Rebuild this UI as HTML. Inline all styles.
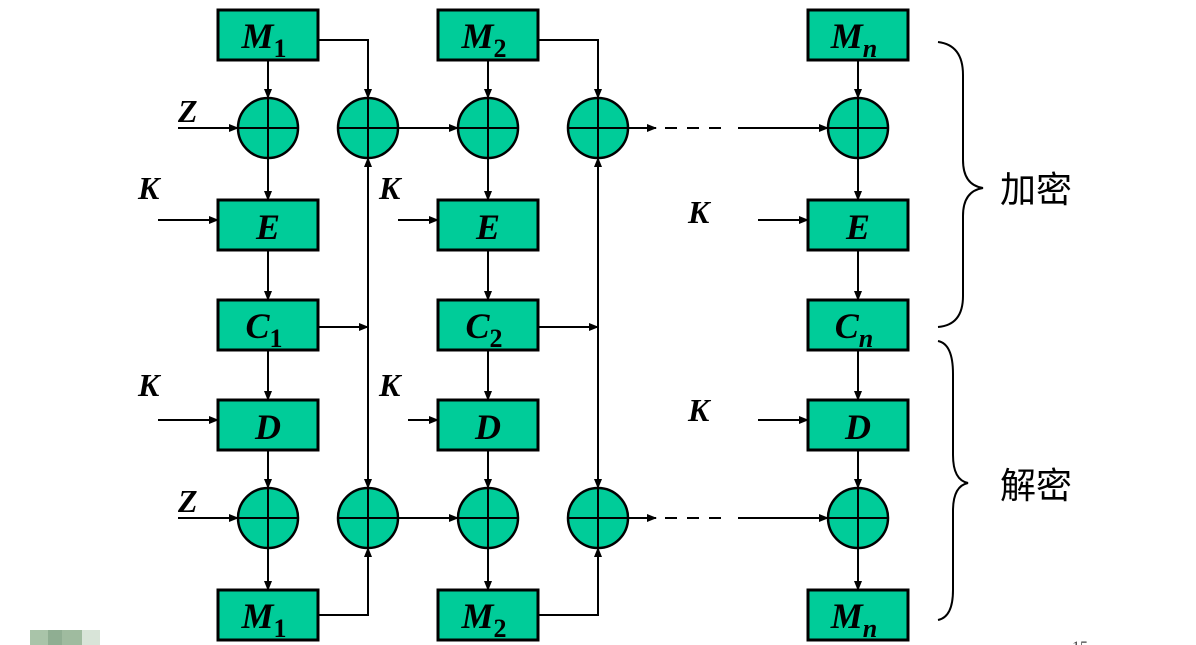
<!DOCTYPE html>
<html><head><meta charset="utf-8"><style>
html,body{margin:0;padding:0;background:#fff;width:1196px;height:645px;overflow:hidden}
svg{display:block}
.t{font-family:"Liberation Serif",serif;font-weight:bold;font-style:italic;fill:#000}
.c{font-family:"Liberation Sans","Noto Sans CJK SC",sans-serif;font-size:36px;fill:#000}
</style></head><body>
<svg width="1196" height="645" viewBox="0 0 1196 645" xmlns="http://www.w3.org/2000/svg">
<defs><marker id="a" markerWidth="10" markerHeight="8" refX="9" refY="4" orient="auto" markerUnits="userSpaceOnUse"><path d="M0,0 L10,4 L0,8 Z" fill="#000"/></marker></defs>
<g stroke="#000" stroke-width="2" fill="none">
<line x1="268" y1="60" x2="268" y2="98" marker-end="url(#a)"/>
<line x1="268" y1="158" x2="268" y2="200" marker-end="url(#a)"/>
<line x1="268" y1="250" x2="268" y2="300" marker-end="url(#a)"/>
<line x1="268" y1="350" x2="268" y2="400" marker-end="url(#a)"/>
<line x1="268" y1="450" x2="268" y2="488" marker-end="url(#a)"/>
<line x1="268" y1="548" x2="268" y2="590" marker-end="url(#a)"/>
<line x1="488" y1="60" x2="488" y2="98" marker-end="url(#a)"/>
<line x1="488" y1="158" x2="488" y2="200" marker-end="url(#a)"/>
<line x1="488" y1="250" x2="488" y2="300" marker-end="url(#a)"/>
<line x1="488" y1="350" x2="488" y2="400" marker-end="url(#a)"/>
<line x1="488" y1="450" x2="488" y2="488" marker-end="url(#a)"/>
<line x1="488" y1="548" x2="488" y2="590" marker-end="url(#a)"/>
<line x1="858" y1="60" x2="858" y2="98" marker-end="url(#a)"/>
<line x1="858" y1="158" x2="858" y2="200" marker-end="url(#a)"/>
<line x1="858" y1="250" x2="858" y2="300" marker-end="url(#a)"/>
<line x1="858" y1="350" x2="858" y2="400" marker-end="url(#a)"/>
<line x1="858" y1="450" x2="858" y2="488" marker-end="url(#a)"/>
<line x1="858" y1="548" x2="858" y2="590" marker-end="url(#a)"/>
<polyline points="318,40 368,40 368,98" marker-end="url(#a)"/>
<polyline points="538,40 598,40 598,98" marker-end="url(#a)"/>
<line x1="368" y1="300" x2="368" y2="158" marker-end="url(#a)"/>
<line x1="368" y1="300" x2="368" y2="488" marker-end="url(#a)"/>
<line x1="598" y1="300" x2="598" y2="158" marker-end="url(#a)"/>
<line x1="598" y1="300" x2="598" y2="488" marker-end="url(#a)"/>
<line x1="318" y1="327" x2="368" y2="327" marker-end="url(#a)"/>
<line x1="538" y1="327" x2="598" y2="327" marker-end="url(#a)"/>
<polyline points="318,615 368,615 368,548" marker-end="url(#a)"/>
<polyline points="538,615 598,615 598,548" marker-end="url(#a)"/>
<line x1="398" y1="128" x2="458" y2="128" marker-end="url(#a)"/>
<line x1="398" y1="518" x2="458" y2="518" marker-end="url(#a)"/>
<line x1="628" y1="128" x2="656" y2="128" marker-end="url(#a)"/>
<line x1="665" y1="128" x2="730" y2="128" stroke-dasharray="12,10"/>
<line x1="738" y1="128" x2="828" y2="128" marker-end="url(#a)"/>
<line x1="628" y1="518" x2="656" y2="518" marker-end="url(#a)"/>
<line x1="665" y1="518" x2="730" y2="518" stroke-dasharray="12,10"/>
<line x1="738" y1="518" x2="828" y2="518" marker-end="url(#a)"/>
<line x1="178" y1="128" x2="238" y2="128" marker-end="url(#a)"/>
<line x1="178" y1="518" x2="238" y2="518" marker-end="url(#a)"/>
<line x1="158" y1="220" x2="218" y2="220" marker-end="url(#a)"/>
<line x1="398" y1="220" x2="438" y2="220" marker-end="url(#a)"/>
<line x1="758" y1="220" x2="808" y2="220" marker-end="url(#a)"/>
<line x1="158" y1="420" x2="218" y2="420" marker-end="url(#a)"/>
<line x1="408" y1="420" x2="438" y2="420" marker-end="url(#a)"/>
<line x1="758" y1="420" x2="808" y2="420" marker-end="url(#a)"/>
<path d="M938,42 Q963,45 963,75 L963,160 Q963,185 983,188 Q963,191 963,216 L963,296 Q963,325 938,327"/>
<path d="M938,341 Q953,344 953,374 L953,455 Q953,480 968,483 Q953,486 953,511 L953,590 Q953,617 938,620"/>
</g>
<g fill="#00CC99" stroke="#000" stroke-width="3">
<rect x="218" y="10" width="100" height="50"/><rect x="438" y="10" width="100" height="50"/><rect x="808" y="10" width="100" height="50"/>
<rect x="218" y="200" width="100" height="50"/><rect x="438" y="200" width="100" height="50"/><rect x="808" y="200" width="100" height="50"/>
<rect x="218" y="300" width="100" height="50"/><rect x="438" y="300" width="100" height="50"/><rect x="808" y="300" width="100" height="50"/>
<rect x="218" y="400" width="100" height="50"/><rect x="438" y="400" width="100" height="50"/><rect x="808" y="400" width="100" height="50"/>
<rect x="218" y="590" width="100" height="50"/><rect x="438" y="590" width="100" height="50"/><rect x="808" y="590" width="100" height="50"/>
</g>
<g fill="#00CC99" stroke="#000" stroke-width="2.5">
<circle cx="268" cy="128" r="30"/><circle cx="368" cy="128" r="30"/><circle cx="488" cy="128" r="30"/><circle cx="598" cy="128" r="30"/><circle cx="858" cy="128" r="30"/>
<circle cx="268" cy="518" r="30"/><circle cx="368" cy="518" r="30"/><circle cx="488" cy="518" r="30"/><circle cx="598" cy="518" r="30"/><circle cx="858" cy="518" r="30"/>
</g>
<g stroke="#000" stroke-width="2">
<path d="M238,128h60M268,98v60M338,128h60M368,98v60M458,128h60M488,98v60M568,128h60M598,98v60M828,128h60M858,98v60"/>
<path d="M238,518h60M268,488v60M338,518h60M368,488v60M458,518h60M488,488v60M568,518h60M598,488v60M828,518h60M858,488v60"/>
</g>
<g class="t" font-size="36" text-anchor="middle">
<text x="264" y="48">M<tspan font-size="26" font-style="normal" dy="9">1</tspan></text>
<text x="484" y="48">M<tspan font-size="26" font-style="normal" dy="9">2</tspan></text>
<text x="854" y="48">M<tspan font-size="26" dy="9">n</tspan></text>
<text x="268" y="239">E</text><text x="488" y="239">E</text><text x="858" y="239">E</text>
<text x="264" y="338">C<tspan font-size="26" font-style="normal" dy="9">1</tspan></text>
<text x="484" y="338">C<tspan font-size="26" font-style="normal" dy="9">2</tspan></text>
<text x="854" y="338">C<tspan font-size="26" dy="9">n</tspan></text>
<text x="268" y="439">D</text><text x="488" y="439">D</text><text x="858" y="439">D</text>
<text x="264" y="628">M<tspan font-size="26" font-style="normal" dy="9">1</tspan></text>
<text x="484" y="628">M<tspan font-size="26" font-style="normal" dy="9">2</tspan></text>
<text x="854" y="628">M<tspan font-size="26" dy="9">n</tspan></text>
</g>
<g class="t" font-size="32">
<text x="178" y="122">Z</text><text x="178" y="512">Z</text>
<text x="138" y="199">K</text><text x="379" y="199">K</text><text x="688" y="223">K</text>
<text x="138" y="396">K</text><text x="379" y="396">K</text><text x="688" y="421">K</text>
</g>
<text class="c" x="1000" y="202">加密</text>
<text class="c" x="1000" y="498">解密</text>
<rect x="30" y="630" width="18" height="15" fill="#a9c4a9"/><rect x="48" y="630" width="14" height="15" fill="#8fae92"/><rect x="62" y="630" width="20" height="15" fill="#9fbb9f"/><rect x="82" y="630" width="18" height="15" fill="#d8e4d8"/>
<text x="1072" y="652" font-family="Liberation Serif,serif" font-size="16" fill="#444">15</text>
</svg>
</body></html>
